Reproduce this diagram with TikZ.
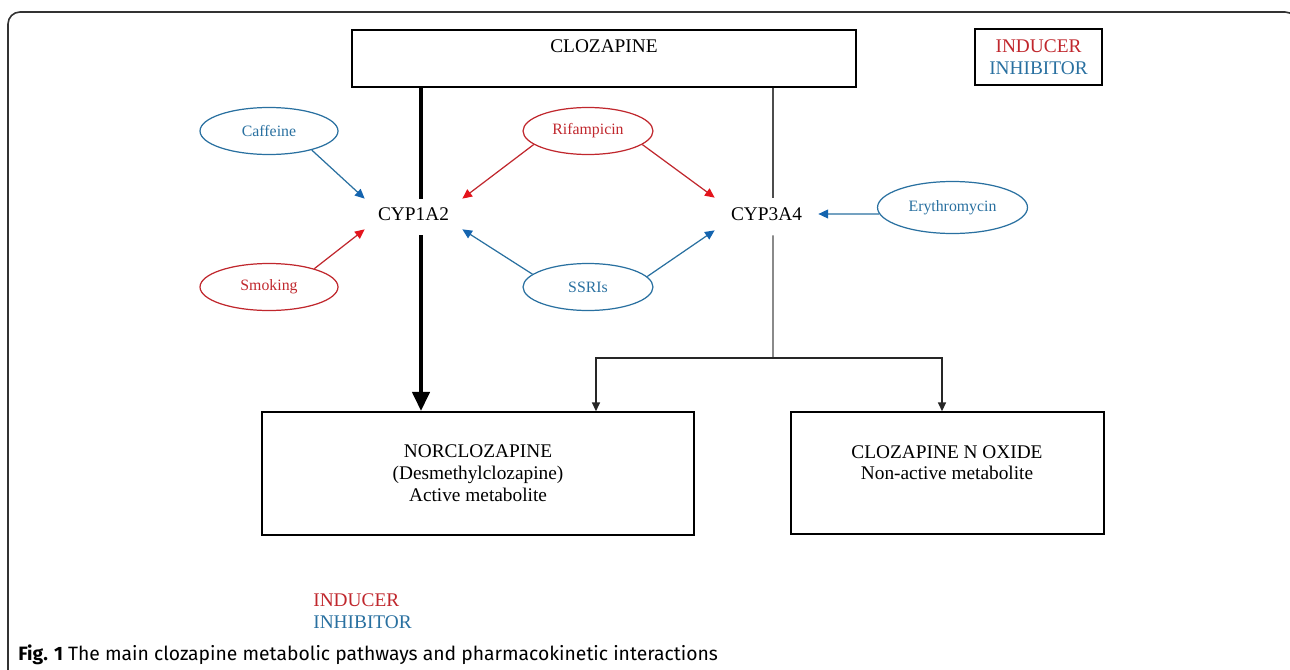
\documentclass[tikz,border=0pt]{standalone}
\usepackage{fontspec}
\setmainfont{Liberation Serif}
\newfontfamily\capfont{Fira Sans}
\usetikzlibrary{shapes.geometric,arrows.meta}
\definecolor{indred}{RGB}{192,39,45}
\definecolor{inhblue}{RGB}{41,112,160}
\definecolor{indhead}{RGB}{228,20,28}
\definecolor{inhhead}{RGB}{20,100,175}
\tikzset{
  txt/.style={inner sep=0, font=\fontsize{11}{12.6}\selectfont, align=center},
  box/.style={draw, line width=.85pt, inner sep=0, txt},
  elps/.style={draw, ellipse, line width=.7pt, inner sep=0, minimum height=.94cm, font=\fontsize{9}{10}\selectfont},
  cyp/.style={inner sep=0, minimum width=1.94cm, minimum height=.6cm, font=\fontsize{11}{13}\selectfont},
  thickarr/.style={line width=2.8pt, -{Triangle[length=11pt, width=9.5pt]}},
  thinln/.style={line width=.8pt, black!70},
  thinarr/.style={thinln, -{Triangle[length=5pt, width=4.5pt]}, black!85},
  indarr/.style={line width=.7pt, indred, -{Triangle[length=5.5pt, width=5pt, color=indhead]}},
  inharr/.style={line width=.7pt, inhblue, -{Triangle[length=5.5pt, width=5pt, color=inhhead]}}
}
\begin{document}
\begin{tikzpicture}[x=.02cm, y=-.02cm]
\useasboundingbox (0,0) rectangle (1290,669);
% outer frame
\draw[line width=.9pt, black!80, rounded corners=.24cm] (8,690) -- (8,12) -- (1297,12) -- (1297,60);

% top boxes
\node[box, minimum width=10.08cm, minimum height=1.14cm] (clz) at (604,58.5) {};
\node[txt] (clzlbl) at (604,46) {CLOZAPINE};
\node[box, minimum width=2.54cm, minimum height=1.12cm] (lgnd) at (1038.5,57)
  {\textcolor{indred}{INDUCER}\\\textcolor{inhblue}{INHIBITOR}};

% enzymes
\node[cyp] (cypa) at (413.5,214) {CYP1A2};
\node[cyp, minimum width=2.06cm, minimum height=.64cm] (cypb) at (766.5,214) {CYP3A4};

% drugs
\node[elps, inhblue, minimum width=2.76cm] (caf) at (269,131) {Caffeine};
\node[elps, indred, minimum width=2.76cm] (smk) at (269,287) {Smoking};
\node[elps, indred, minimum width=2.6cm] (rif) at (588,131) {Rifampicin};
\node[elps, inhblue, minimum width=2.6cm] (ssr) at (588,287) {SSRIs};
\node[elps, inhblue, minimum width=3cm, minimum height=1.04cm] (ery) at (952.5,207.5) {Erythromycin};

% metabolites
\node[box, minimum width=8.64cm, minimum height=2.46cm] (norc) at (478,473.5)
  {NORCLOZAPINE\\(Desmethylclozapine)\\Active metabolite};
\node[box, minimum width=6.26cm, minimum height=2.44cm] (noxd) at (947.5,473) {};
\node[txt, font=\fontsize{11}{12}\selectfont] (noxdlbl) at (947,462.5) {CLOZAPINE N OXIDE\\Non-active metabolite};

% pathways
\draw[line width=2.8pt] ([xshift=.15cm]cypa.north |- clz.south) -- ([xshift=.15cm]cypa.north);
\draw[thickarr] ([xshift=.15cm, yshift=-.12cm]cypa.south) -- ([xshift=.15cm]cypa.south |- norc.north);
\draw[thinln] ([xshift=.13cm]cypb.north |- clz.south) -- ([xshift=.13cm]cypb.north);
\coordinate (brch) at (773,358);
\draw[thinln] ([xshift=.13cm, yshift=-.1cm]cypb.south) -- (brch);
\draw[thinarr] (brch) -| ([xshift=2.36cm]norc.north);
\draw[thinarr] (brch) -| ([xshift=-.11cm]noxd.north);

% interactions
\draw[inharr] (caf.-24) -- (cypa.north west);
\draw[indarr] (smk.22) -- (cypa.south west);
\draw[indarr] (rif.-166) -- (cypa.north east);
\draw[indarr] (rif.-14) -- (cypb.north west);
\draw[inharr] (ssr.167) -- (cypa.south east);
\draw[inharr] (ssr.10) -- (cypb.south west);
\draw[inharr] (ery.185) -- (cypb.east);

% legend and caption
\node[txt, anchor=west, align=left] (lgbot) at (313,611)
  {\textcolor{indred}{INDUCER}\\\textcolor{inhblue}{INHIBITOR}};
\node[anchor=west, inner sep=0, font=\capfont\fontsize{11}{13}\selectfont] (capt) at (18,655)
  {\textbf{Fig. 1} The main clozapine metabolic pathways and pharmacokinetic interactions};
\end{tikzpicture}
\end{document}
